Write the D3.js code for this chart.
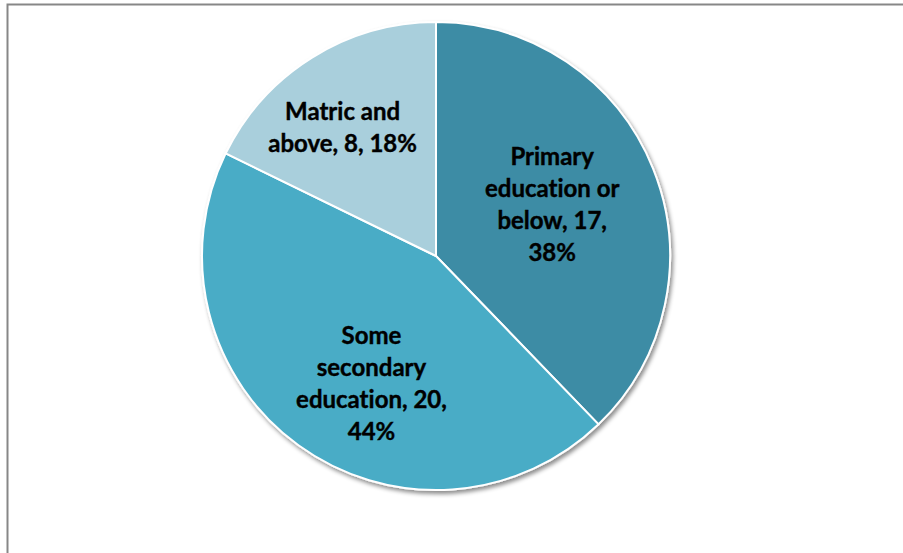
<!DOCTYPE html>
<html>
<head>
<meta charset="utf-8">
<script src="https://cdn.jsdelivr.net/npm/d3@7"></script>
<style>
  body { margin: 0; background: #fff; }
  svg { display: block; }
  text { font-variant-ligatures: none; font-feature-settings: "liga" 0; }
</style>
</head>
<body>
<script>
// education level counts
var categories = ["Primary education or below", "Some secondary education", "Matric and above"];
var counts = [17, 20, 8];
var percents = ["38%", "44%", "18%"];
// label lines as shown in the chart
var labelLines = [
	["Primary", "education or", "below, 17,", "38%"],
	["Some", "secondary", "education, 20,", "44%"],
	["Matric and", "above, 8, 18%"]
];
var colors = ["#3d8ca5", "#4aacc6", "#a9cfdc"];

var width = 903,
	height = 553;

var cx = 436, cy = 256, radius = 234;

var svg = d3.select("body").append("svg")
	.attr("width", width)
	.attr("height", height);

var defs = svg.append("defs");
var f = defs.append("filter")
	.attr("id", "shadow")
	.attr("x", "-10%").attr("y", "-10%")
	.attr("width", "130%").attr("height", "130%");
f.append("feDropShadow")
	.attr("dx", 2).attr("dy", 3)
	.attr("stdDeviation", 2)
	.attr("flood-color", "#000")
	.attr("flood-opacity", 0.45);

// outer frame (right and bottom edges are off the picture)
svg.append("rect")
	.attr("x", 7.5).attr("y", 4.5)
	.attr("width", 1000).attr("height", 1000)
	.attr("fill", "none")
	.attr("stroke", "#878787")
	.attr("stroke-width", 2);

var data = categories.map(function(c, i){
	return { name: c, value: counts[i], pct: percents[i], lines: labelLines[i], color: colors[i] };
});

var pie = d3.pie()
	.sort(null)
	.value(function(d){ return d.value; });

var arc = d3.arc()
	.innerRadius(0)
	.outerRadius(radius);

var labelArc = d3.arc()
	.innerRadius(radius * 0.6)
	.outerRadius(radius * 0.6);

// small nudges so labels sit where excel put them
var nudge = [[-14, 2], [18, 14], [-19, -9]];

var g = svg.append("g")
	.attr("transform", "translate(" + cx + "," + cy + ")");

g.append("g")
	.attr("filter", "url(#shadow)")
	.selectAll("path")
	.data(pie(data))
	.enter().append("path")
		.attr("d", arc)
		.attr("fill", function(d){ return d.data.color; })
		.attr("stroke", "#fff")
		.attr("stroke-width", 2)
		.attr("stroke-linejoin", "round");

var lineH = 32;

var labels = g.selectAll("text.lbl")
	.data(pie(data))
	.enter().append("text")
		.classed("lbl", true)
		.attr("text-anchor", "middle")
		.style("font-family", "Lato, 'Open Sans', sans-serif")
		.style("font-weight", "bold")
		.style("font-size", "24px")
		.attr("fill", "#000")
		.attr("stroke", "#000")
		.attr("stroke-width", 0.4)
		.attr("transform", function(d, i){
			var c = labelArc.centroid(d);
			return "translate(" + (c[0] + nudge[i][0]) + "," + (c[1] + nudge[i][1]) + ")";
		});

labels.each(function(d){
	var n = d.data.lines.length;
	var t = d3.select(this);
	d.data.lines.forEach(function(line, k){
		t.append("tspan")
			.attr("x", 0)
			.attr("y", (k - (n - 1) / 2) * lineH + 8)
			.text(line);
	});
});
</script>
</body>
</html>
